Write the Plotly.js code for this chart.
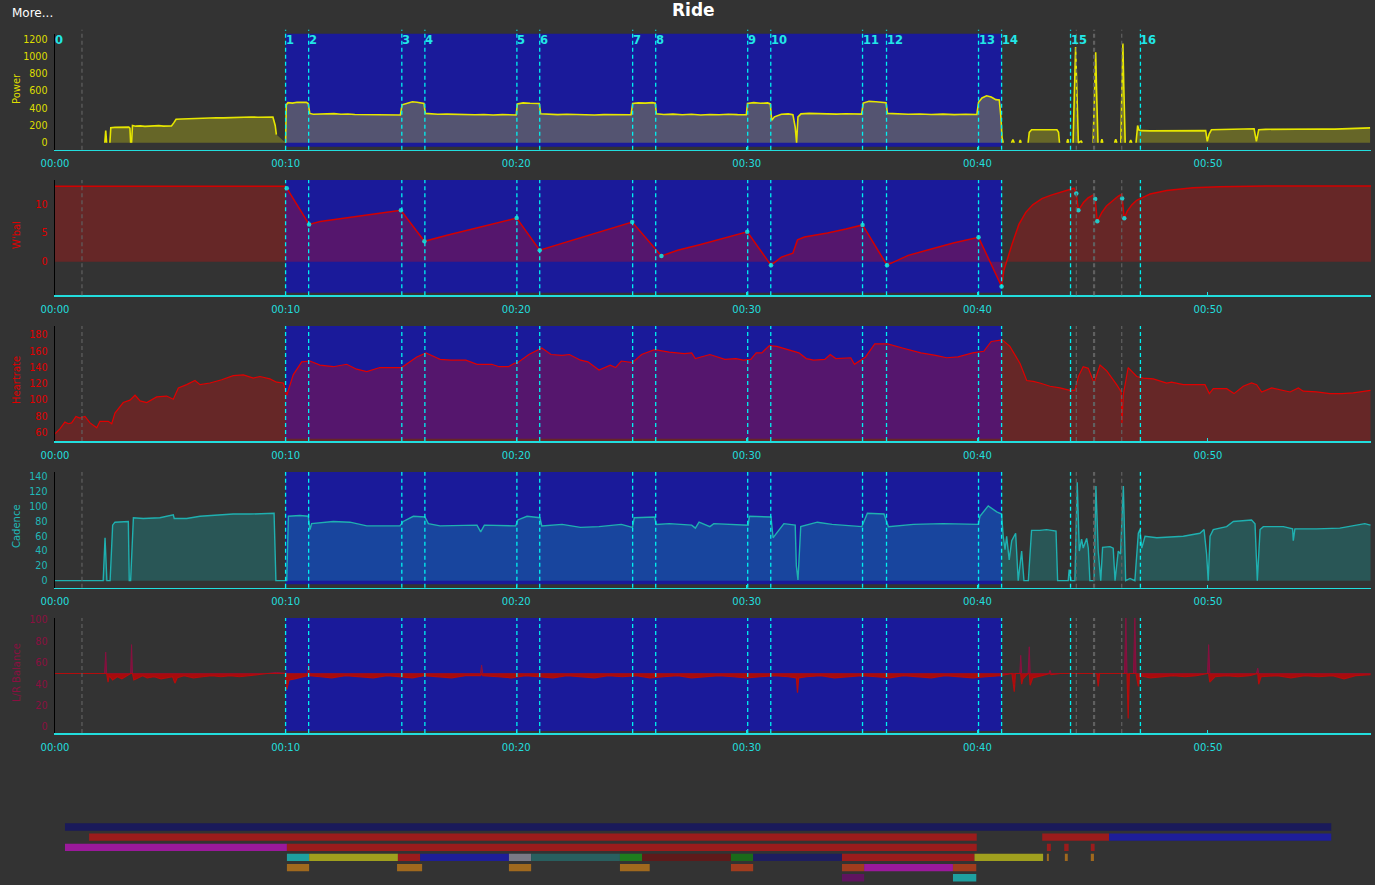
<!DOCTYPE html>
<html><head><meta charset="utf-8">
<script src="https://cdn.plot.ly/plotly-3.0.1.min.js"></script>
<style>html,body{margin:0;padding:0;background:#333333;overflow:hidden}#chart{width:1375px;height:885px}</style>
</head><body><div id="chart"></div>
<script>
// ---------------- DATA (time in minutes) ----------------
const intervalStarts = [0, 10.0, 11.0, 15.04, 16.04, 20.03, 21.02, 25.05, 26.05, 30.04, 31.04, 35.02, 36.06, 40.05, 41.05, 44.04, 47.07];
const intervalLabels = ['0','1','2','3','4','5','6','7','8','9','10','11','12','13','14','15','16'];
const markerLines = [1.17, 44.29, 45.06, 46.26];
const timeTickVals = [0, 10, 20, 30, 40, 50];
const timeTickText = ['00:00', '00:10', '00:20', '00:30', '00:40', '00:50'];

const powerT = [
 2.16, 2.20, 2.24, 2.30, 2.38, 2.42, 2.60, 2.80, 3.00, 3.20, 3.25, 3.28, 3.30,
 3.32, 3.36, 3.50, 3.70, 3.90, 4.10, 4.30, 4.50, 4.70, 4.90, 5.05, 5.15, 5.25,
 5.50, 5.80, 6.10, 6.40, 6.70, 7.00, 7.30, 7.60, 7.90, 8.20, 8.50, 8.80, 9.10,
 9.35, 9.45, 9.55, 9.60, 9.80,
 10.00, 10.03, 10.10, 10.30, 10.50, 10.70, 10.90, 10.98,
 11.05, 11.20, 11.50, 11.80, 12.10, 12.40, 12.70, 13.00, 13.30, 13.60, 13.90, 14.20, 14.50, 14.80, 14.98,
 15.05, 15.20, 15.50, 15.70, 15.90, 16.00,
 16.06, 16.30, 16.60, 17.00, 17.40, 17.80, 18.20, 18.60, 19.00, 19.40, 19.80, 20.00,
 20.05, 20.30, 20.60, 20.90, 21.00,
 21.06, 21.40, 21.80, 22.20, 22.60, 23.00, 23.40, 23.80, 24.20, 24.60, 24.98,
 25.05, 25.30, 25.60, 25.90, 26.03,
 26.08, 26.40, 26.80, 27.20, 27.60, 28.00, 28.40, 28.80, 29.20, 29.60, 29.98,
 30.03, 30.30, 30.60, 30.90, 31.02,
 31.08, 31.20, 31.50, 31.80, 32.00, 32.10, 32.16, 32.22, 32.35, 32.70, 33.10, 33.50, 33.90, 34.30, 34.70, 34.98,
 35.05, 35.30, 35.60, 35.90, 36.04,
 36.10, 36.50, 37.00, 37.50, 38.00, 38.50, 39.00, 39.50, 39.98,
 40.05, 40.20, 40.40, 40.60, 40.80, 40.95, 41.02, 41.07, 41.12, 41.30,
 41.48, 41.54, 41.60, 41.70,
 41.82, 41.86, 41.90, 42.00,
 42.20, 42.25, 42.35, 42.60, 42.90, 43.20, 43.45, 43.52, 43.56, 43.70,
 43.88, 43.92, 43.96, 44.10,
 44.15, 44.21, 44.26, 44.31, 44.38, 44.50, 44.55, 44.70,
 45.02, 45.08, 45.13, 45.17, 45.23, 45.30,
 45.36, 45.40, 45.44, 45.60,
 45.95, 46.00, 46.05, 46.10,
 46.22, 46.27, 46.31, 46.35, 46.41, 46.55,
 46.60, 46.65, 46.70, 46.80,
 46.88, 46.95, 47.00, 47.10, 47.50, 48.00, 48.50, 49.00, 49.50, 49.90, 49.97, 50.05, 50.15,
 50.50, 51.00, 51.50, 52.00, 52.10, 52.20, 52.50, 53.00, 53.50, 54.00, 54.50, 55.00, 55.50, 56.00, 56.50, 57.03
];
const powerW = [
 0, 140, 0, null, 0, 175, 178, 180, 179, 181, 170, 0, null,
 0, 200, 192, 196, 190, 195, 193, 198, 192, 196, 194, 230, 272,
 276, 280, 283, 281, 287, 290, 288, 292, 295, 293, 298, 296, 300,
 305, 298, 200, 95, null,
 0, 440, 465, 460, 470, 465, 468, 455,
 340, 330, 335, 332, 338, 330, 334, 328, 326, 330, 322, 325, 320, 324, 322,
 440, 452, 475, 470, 462, 455,
 340, 335, 330, 332, 328, 330, 325, 328, 322, 326, 324, 322,
 450, 462, 458, 460, 455,
 335, 330, 326, 330, 325, 328, 322, 326, 324, 320, 324,
 455, 462, 460, 465, 458,
 335, 328, 332, 325, 330, 322, 328, 324, 330, 326, 325,
 455, 465, 458, 462, 450,
 260, 300, 330, 335, 325, 180, 0, 300, 335, 340, 335, 338, 332, 336, 330, 332,
 460, 480, 475, 470, 465,
 340, 335, 330, 334, 328, 332, 326, 330, 328,
 470, 520, 545, 530, 500, 495, 300, 60, 0, null,
 0, 35, 0, null,
 0, 30, 0, null,
 0, 120, 150, 148, 152, 146, 150, 120, 0, null,
 0, 40, 0, null,
 0, 700, 1110, 650, 0, 20, 0, null,
 0, 650, 1050, 600, 0, null,
 0, 40, 0, null,
 0, 40, 0, null,
 0, 700, 1150, 650, 0, null,
 0, 30, 0, null,
 0, 200, 150, 140, 138, 140, 142, 140, 145, 140, 15, 100, 150,
 152, 158, 165, 162, 15, 150, 155, 157, 160, 156, 158, 160, 158, 162, 165, 172
];

const wbalT = [0, 10.0, 10.05, 11.02, 11.5, 12, 13, 14, 15.0, 16.02,
 17, 18, 19, 20.02, 21.02, 22, 23, 24, 25.03, 26.3,
 27, 28, 29, 30.02, 31.05, 31.5, 32.0, 32.2, 32.5, 33.5,
 34.3, 35.02, 36.08, 37, 38, 39, 40.05, 41.05, 41.15, 41.3,
 41.5, 41.8, 42.1, 42.4, 42.8, 43.2, 43.6, 44.0, 44.19, 44.29,
 44.38, 44.6, 44.8, 45.06, 45.11, 45.20, 45.4, 45.6, 45.9, 46.1,
 46.26, 46.28, 46.37, 46.5, 46.7, 46.91, 47.49, 48.21, 49.35, 50.5,
 52.54, 57.07];
const wbalV = [13.15, 13.15, 12.8, 6.5, 7.0, 7.3, 7.9, 8.4, 8.95, 3.55,
 4.6, 5.6, 6.6, 7.6, 2.0, 3.2, 4.5, 5.7, 6.9, 1.0,
 2.0, 3.0, 4.1, 5.2, -0.6, 0.8, 1.5, 3.8, 4.3, 5.0,
 5.7, 6.4, -0.6, 1.1, 2.2, 3.3, 4.25, -4.3, -1.5, 0.5,
 3.0, 6.5, 8.6, 9.9, 11.0, 11.6, 12.1, 12.5, 12.8, 11.9,
 8.95, 10.3, 11.1, 11.7, 10.9, 7.04, 8.6, 9.7, 10.8, 11.4,
 11.75, 11.0, 7.56, 8.8, 9.9, 10.7, 11.8, 12.4, 12.9, 13.05,
 13.2, 13.2];
const wbalPointT = [10.05, 11.02, 15.0, 16.02, 20.02, 21.02, 25.03, 26.3, 30.02, 31.05, 35.02, 36.08, 40.05, 41.05, 44.29, 44.38, 45.11, 45.20, 46.28, 46.37];
const wbalPointV = [12.8, 6.5, 8.95, 3.55, 7.6, 2.0, 6.9, 1.0, 5.2, -0.6, 6.4, -0.6, 4.25, -4.3, 11.9, 8.95, 10.9, 7.04, 11.0, 7.56];

const hrT = [0.01,0.22,0.43,0.58,0.72,0.91,1.08,1.30,1.52,1.81,
 1.95,2.31,2.46,2.60,2.96,3.25,3.47,3.69,3.98,4.41,
 4.84,5.13,5.35,5.71,6.07,6.29,6.72,7.23,7.73,8.17,
 8.60,8.89,9.32,9.61,9.90,10.05,10.33,10.70,11.06,11.49,
 12.07,12.65,13.08,13.52,14.09,14.53,15.03,15.69,16.09,16.55,
 16.70,17.18,17.82,18.30,18.94,19.26,19.66,19.90,20.06,20.55,
 21.11,21.51,21.99,22.31,22.79,23.11,23.59,24.08,24.31,24.56,
 25.04,25.44,26.00,26.64,27.29,27.61,27.77,28.40,29.05,29.53,
 29.85,30.17,30.41,30.65,30.98,31.30,31.78,32.26,32.58,32.90,
 33.38,33.62,33.86,34.51,34.67,35.15,35.55,36.11,36.75,37.55,
 38.19,38.67,39.16,39.80,40.28,40.60,41.08,41.41,41.85,42.14,
 42.42,42.71,43.15,43.58,44.02,44.23,44.38,44.59,44.81,45.06,
 45.32,45.61,46.04,46.24,46.27,46.33,46.54,46.91,47.19,47.63,
 48.21,48.42,48.93,49.51,49.87,50.06,50.23,50.81,51.13,51.53,
 51.89,52.11,52.33,52.76,53.27,53.56,53.92,54.13,54.71,55.29,
 55.80,56.30,57.05];
const hrV = [59,65,73,71,72,80,78,80,72,66,
 74,74,71,84,97,100,106,99,97,104,
 105,101,115,119,124,119,121,125,130,131,
 127,129,126,122,121,106,131,147,148,143,
 141,144,138,135,140,140,140,153,158,152,
 150,149,149,144,144,141,141,145,146,156,
 164,156,155,156,149,147,137,143,140,148,
 146,156,162,159,157,158,151,156,150,151,
 149,150,158,158,167,166,162,158,151,149,
 150,156,151,152,144,153,169,169,164,158,
 155,152,153,158,160,172,174,166,145,124,
 123,121,117,115,112,112,129,141,139,121,
 143,136,119,110,72,107,140,129,127,126,
 121,122,119,119,119,108,114,114,108,117,
 121,119,110,115,112,110,115,111,110,108,
 108,109,112];

const cadT = [0,2.09,2.17,2.25,2.39,2.50,2.60,3.18,3.22,3.28,
 3.40,3.83,4.55,5.13,5.17,5.71,6.29,7.01,7.73,8.46,
 9.03,9.50,9.58,10.05,10.12,10.62,10.98,11.06,11.13,12.07,
 12.79,13.52,14.24,14.96,15.10,15.54,16.04,16.19,16.70,17.56,
 18.30,18.46,18.62,19.98,20.07,20.47,21.03,21.11,21.99,22.79,
 23.59,24.56,25.04,25.12,26.00,26.08,26.64,27.61,27.77,27.93,
 28.40,28.57,29.53,30.06,30.11,31.05,31.14,31.61,32.10,32.15,
 32.22,32.28,32.34,33.06,33.70,34.99,35.23,35.95,36.14,37.23,
 38.51,40.04,40.11,40.47,40.84,41.05,41.12,41.20,41.27,41.38,
 41.49,41.66,41.77,41.92,42.02,42.21,42.35,42.71,43.00,43.41,
 43.48,43.94,43.98,44.06,44.23,44.33,44.42,44.52,44.59,44.74,
 44.81,44.88,45.06,45.14,45.24,45.35,45.43,45.75,45.89,45.97,
 46.11,46.21,46.33,46.43,46.62,46.83,46.98,47.05,47.13,47.27,
 47.78,48.93,49.65,49.83,49.94,50.01,50.09,50.23,50.81,51.10,
 51.53,51.89,52.04,52.14,52.26,52.40,53.27,53.67,53.70,53.77,
 54.71,55.72,56.80,57.05];
const cadV = [0,0,58,0,0,75,79,80,0,0,
 85,84,85,89,84,84,87,89,90,90,
 91,91,0,0,87,88,87,69,77,80,
 79,74,74,74,80,87,86,77,74,74,
 75,66,75,74,82,87,85,74,76,72,
 73,76,72,85,86,76,77,75,71,79,
 73,77,76,75,87,86,58,77,75,20,
 1,30,73,79,76,73,91,90,73,76,
 77,76,87,101,93,90,60,42,60,28,
 54,64,0,40,0,0,68,68,69,67,
 0,0,15,0,0,133,40,56,44,57,
 44,0,0,128,40,0,45,46,44,0,
 40,36,128,0,3,0,64,69,44,60,
 58,60,64,69,36,0,60,69,73,80,
 81,82,77,0,69,73,73,70,54,70,
 70,71,77,75];

const lrT = [0, 2.15, 2.2, 2.24, 2.3, 2.35, 2.5, 2.7, 2.9, 3.1,
 3.28, 3.32, 3.36, 3.42, 3.6, 3.8, 4.0, 4.3, 4.6, 4.9,
 5.1, 5.2, 5.3, 5.6, 6.0, 6.4, 6.8, 7.2, 7.6, 8.0,
 8.4, 8.8, 9.2, 9.6, 10.0, 10.05, 10.15, 10.4, 10.7, 10.95,
 11.0, 11.05, 11.5, 12.0, 12.6, 13.2, 13.8, 14.4, 15.0, 15.5,
 16.0, 16.6, 17.2, 17.8, 18.45, 18.5, 18.55, 19.2, 19.8, 20.4,
 21.0, 21.6, 22.2, 22.8, 23.4, 24.0, 24.6, 25.2, 25.8, 26.4,
 27.0, 27.6, 28.2, 28.8, 29.4, 30.0, 30.6, 31.2, 31.8, 32.15,
 32.2, 32.25, 32.6, 33.2, 33.8, 34.4, 35.0, 35.6, 36.2, 36.8,
 37.4, 38.0, 38.6, 39.2, 39.8, 40.4, 41.0, 41.5, 41.6, 41.65,
 41.84, 41.88, 41.92, 41.97, 42.2, 42.25, 42.29, 42.4, 42.8, 43.1,
 43.15, 43.2, 43.6, 45.18, 45.24, 45.3, 46.38, 46.44, 46.49, 46.54,
 46.59, 46.77, 46.83, 46.88, 46.98, 47.05, 47.5, 48.0, 48.5, 49.0,
 49.5, 49.98, 50.03, 50.08, 50.3, 50.8, 51.3, 51.8, 52.1, 52.16,
 52.2, 52.3, 53.0, 53.6, 54.2, 54.8, 55.4, 55.9, 56.4, 57.05];
const lrV = [50, 50, 70, 50, 42, 48, 44, 47, 45, 48,
 50, 77, 50, 44, 46, 48, 46, 47, 45, 46,
 47, 41, 46, 48, 46, 47, 48, 47, 48, 47,
 48, 49, 50, 51, 50, 35, 44, 45, 47, 48,
 59, 48, 47, 46, 48, 47, 46, 48, 47, 46,
 48, 47, 46, 48, 48, 58, 48, 47, 46, 48,
 47, 46, 48, 47, 46, 48, 47, 48, 46, 47,
 48, 46, 47, 48, 47, 46, 47, 48, 47, 46,
 32, 46, 47, 48, 46, 47, 48, 47, 46, 48,
 47, 46, 48, 47, 46, 47, 48, 50, 33, 50,
 50, 67, 40, 45, 50, 75, 39, 46, 48, 50,
 53, 49, 50, 50, 38, 50, 50, 102, 50, 8,
 50, 50, 102, 50, 38, 48, 46, 47, 48, 47,
 48, 50, 77, 42, 47, 48, 47, 48, 50, 55,
 40, 47, 48, 46, 48, 47, 48, 45, 48, 49];
const lrCentre = 50;

// interval-hierarchy bars (row, start minute, end minute, kind)
const barRow   = [1, 2, 2, 2, 3, 3, 3, 3, 3, 4, 4, 4, 4, 4, 4, 4, 4, 4, 4, 4, 4, 4, 4, 4, 5, 5, 5, 5, 5, 5, 5, 5, 6, 6];
const barStart = [0, 1.09, 44.02, 47.03, 0, 10.0, 44.23, 45.01, 46.21, 10.0, 11.0, 15.0, 16.0, 20.0, 21.0, 25.0, 26.0, 30.0, 31.0, 35.0, 40.97, 44.23, 45.04, 46.21, 10.0, 14.96, 20.0, 25.0, 30.0, 35.0, 36.0, 40.0, 35.0, 40.0];
const barEnd   = [57.05, 41.07, 47.03, 57.05, 10.0, 41.07, 44.41, 45.21, 46.38, 11.0, 15.0, 16.0, 20.0, 21.0, 25.0, 26.0, 30.0, 31.0, 35.0, 40.97, 44.06, 44.32, 45.17, 46.35, 11.0, 16.09, 21.0, 26.34, 31.0, 36.0, 40.0, 41.05, 36.0, 41.05];
const barKind  = ['navy','red','red','blue','magenta','red','red','red','red','teal','olive','red','blue','grey','darkteal','green','darkred','greenpat','navy2','red','olive','orange','orange','orange','orange','orange','orange','orange','orangered','orangered','magenta','orangered','purple','teal'];

// ---------------- STYLE ----------------
const W = 1375, H = 885;
const px = v => v / W;
const py = v => 1 - v / H;
const BG = '#333333';
const CYAN = '#22dede';
const BLUE = 'rgb(26,26,154)';
const barPalette = {navy:'#1a1a5a', red:'#9b1c1c', blue:'#1e1e98', magenta:'#9b199b', teal:'#1ea0a0', olive:'#a0a01e', grey:'#7a7a86', darkteal:'#285f5f', green:'#1e7d1e', darkred:'#5e1a1a', greenpat:'#1a6a1a', navy2:'#1e1e5f', orange:'#a0691e', orangered:'#a03c1e', purple:'#5f145f'};

const panels = [
  {top:33.7, bottom:149.7, range:[-81,1265], ticks:[0,200,400,600,800,1000,1200], color:'#dede00', title:'Power', ty:88, blueBottom:0.026, lineTop:1.035},
  {top:180, bottom:295.3, range:[-5.85,14.23], ticks:[0,5,10], color:'#e00000', title:"W'bal", ty:235, blueBottom:0.023, lineTop:1},
  {top:326, bottom:441, range:[49.8,191], ticks:[60,80,100,120,140,160,180], color:'#e00000', title:'Heartrate', ty:380, blueBottom:0.02, lineTop:1},
  {top:472, bottom:587.7, range:[-9.5,146.8], ticks:[0,20,40,60,80,100,120,140], color:'#20b8b8', title:'Cadence', ty:526, blueBottom:0.029, lineTop:1},
  {top:618, bottom:733, range:[-5.6,101.9], ticks:[0,20,40,60,80,100], color:'#8a1040', title:'L/R Balance', ty:672, blueBottom:0.018, lineTop:1}
];

const layout = {
  width: W, height: H,
  paper_bgcolor: BG, plot_bgcolor: 'rgba(0,0,0,0)',
  margin: {l:0, r:0, t:0, b:0},
  showlegend: false,
  font: {family: 'DejaVu Sans, sans-serif', color: CYAN},
  shapes: [], annotations: []
};

panels.forEach((p, i) => {
  const n = i === 0 ? '' : String(i + 1);
  layout['xaxis' + n] = {
    domain: [px(55), px(1371)], range: [0, 57.07], anchor: 'y' + n,
    showgrid: false, zeroline: false, showline: true, linecolor: CYAN, linewidth: 1.5,
    tickmode: 'array', tickvals: timeTickVals, ticktext: timeTickText,
    ticks: 'inside', ticklen: 3, tickcolor: CYAN, ticklabelstandoff: 4,
    tickfont: {family: 'DejaVu Sans', size: 10, color: CYAN}, fixedrange: true
  };
  layout['yaxis' + n] = {
    domain: [py(p.bottom), py(p.top)], range: p.range, anchor: 'x' + n,
    showgrid: false, zeroline: false, showline: true, linecolor: '#000000', linewidth: 1.5,
    tickmode: 'array', tickvals: p.ticks, ticks: 'outside', ticklen: 4, tickcolor: 'rgba(0,0,0,0)',
    tickfont: {family: 'DejaVu Sans', size: 9.6, color: p.color}, fixedrange: true
  };
  const xr = 'x' + n, yd = 'y' + n + ' domain';
  layout.shapes.push({type:'rect', xref:xr, yref:yd, x0:intervalStarts[1], x1:intervalStarts[14], y0:p.blueBottom, y1:1, fillcolor:BLUE, line:{width:0}, layer:'below'});
  intervalStarts.slice(1).forEach(t => {
    layout.shapes.push({type:'line', xref:xr, yref:yd, x0:t, x1:t, y0:0, y1:p.lineTop, line:{color:'#00f0f0', width:1.3, dash:'4px,3px'}, layer:'above'});
  });
  markerLines.forEach((t, k) => {
    layout.shapes.push({type:'line', xref:xr, yref:yd, x0:t, x1:t, y0:0, y1:p.lineTop, line:{color:'#606060', width:k === 2 ? 2.2 : 1.2, dash:'4px,3px'}, layer:'above'});
  });
  layout.annotations.push({text: p.title, xref:'paper', yref:'paper', x:px(16), y:py(p.ty), textangle:-90, showarrow:false, xanchor:'center', yanchor:'middle', font:{family:'DejaVu Sans', size:10, color:p.color}});
});

// bar panel axes
layout.xaxis6 = {domain:[px(64.9), px(1331.5)], range:[0, 57.05], anchor:'y6', visible:false, fixedrange:true};
layout.yaxis6 = {domain:[0, py(815)], range:[6.714, -0.182], anchor:'x6', visible:false, fixedrange:true};

// interval labels
intervalStarts.forEach((t, i) => {
  layout.annotations.push({text:'<b>' + intervalLabels[i] + '</b>', xref:'x', yref:'paper', x:t, y:py(39.5), xanchor:'left', yanchor:'middle', xshift:-2, showarrow:false, font:{family:'DejaVu Sans', size:11.5, color:'#22e6e6'}});
});
layout.annotations.push({text:'<b>Ride</b>', xref:'paper', yref:'paper', x:px(693), y:py(10), xanchor:'center', yanchor:'middle', showarrow:false, font:{family:'DejaVu Sans', size:17, color:'#ffffff'}});
layout.annotations.push({text:'More...', xref:'paper', yref:'paper', x:px(10), y:py(12.5), xanchor:'left', yanchor:'middle', showarrow:false, font:{family:'DejaVu Sans', size:12, color:'#ffffff'}});

const traces = [];
traces.push({x:powerT, y:powerW, type:'scatter', mode:'lines', connectgaps:false, fill:'tozeroy', fillcolor:'rgba(227,227,13,0.29)', line:{color:'#e6e600', width:1.6}, xaxis:'x', yaxis:'y', hoverinfo:'skip'});
traces.push({x:wbalT, y:wbalV, type:'scatter', mode:'lines', fill:'tozeroy', fillcolor:'rgba(210,17,17,0.32)', line:{color:'#d40000', width:1.5}, xaxis:'x2', yaxis:'y2', hoverinfo:'skip'});
traces.push({x:wbalPointT, y:wbalPointV, type:'scatter', mode:'markers', marker:{color:'#22c8c8', size:4.5, symbol:'circle'}, xaxis:'x2', yaxis:'y2', hoverinfo:'skip'});
traces.push({x:hrT, y:hrV, type:'scatter', mode:'lines', fill:'tozeroy', fillcolor:'rgba(210,17,17,0.32)', line:{color:'#e00000', width:1.2}, xaxis:'x3', yaxis:'y3', hoverinfo:'skip'});
traces.push({x:cadT, y:cadV, type:'scatter', mode:'lines', fill:'tozeroy', fillcolor:'rgba(20,170,170,0.3)', line:{color:'#1fb0b0', width:1.4}, xaxis:'x4', yaxis:'y4', hoverinfo:'skip'});
const lrBase = lrT.map(() => lrCentre);
const lrUp = lrV.map(v => Math.max(v, lrCentre));
const lrDown = lrV.map(v => Math.min(v, lrCentre));
traces.push({x:lrT, y:lrBase, type:'scatter', mode:'lines', line:{width:0, color:'rgba(0,0,0,0)'}, xaxis:'x5', yaxis:'y5', hoverinfo:'skip'});
traces.push({x:lrT, y:lrUp, type:'scatter', mode:'lines', fill:'tonexty', fillcolor:'#7d0f3c', line:{color:'#8a1040', width:1}, xaxis:'x5', yaxis:'y5', hoverinfo:'skip'});
traces.push({x:lrT, y:lrBase, type:'scatter', mode:'lines', line:{width:0, color:'rgba(0,0,0,0)'}, xaxis:'x5', yaxis:'y5', hoverinfo:'skip'});
traces.push({x:lrT, y:lrDown, type:'scatter', mode:'lines', fill:'tonexty', fillcolor:'#a80c0c', line:{color:'#b40c0c', width:1.2}, xaxis:'x5', yaxis:'y5', hoverinfo:'skip'});

traces.push({
  type:'bar', orientation:'h', y:barRow, base:barStart,
  x:barEnd.map((e, i) => e - barStart[i]), width:0.72,
  marker:{color:barKind.map(k => barPalette[k]), line:{width:0}},
  xaxis:'x6', yaxis:'y6', hoverinfo:'skip'
});

Plotly.newPlot('chart', traces, layout, {staticPlot:true, displayModeBar:false});
</script></body></html>
